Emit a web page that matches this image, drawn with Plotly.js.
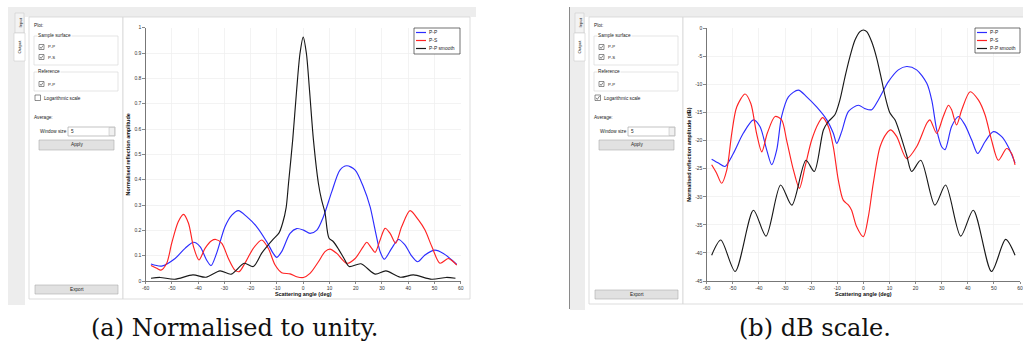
<!DOCTYPE html>
<html><head><meta charset="utf-8">
<script src="https://cdn.plot.ly/plotly-3.0.1.min.js"></script>
<style>html,body{margin:0;padding:0;background:#fff;}#chart{width:1023px;height:354px;}</style>
</head><body><div id="chart"></div>
<script>
// ---------- DATA ----------
// (a) normalised to unity
const angleNormPP = [-58,-53.9,-48.8,-45,-41.8,-39.3,-36.8,-35.1,-33,-29.8,-27.2,-24.7,-21.5,-17.7,-13.9,-11.4,-10.1,-8.2,-5,-2.5,0.1,2.6,5.2,7.7,10.9,14,16.6,19.8,22.9,25.5,27.4,29.3,30.9,33.7,36.3,38.8,41.3,43.6,46.4,50.2,53.4,56.6,58.5];
const ampNormPP   = [0.067,0.059,0.089,0.129,0.153,0.136,0.083,0.061,0.109,0.214,0.26,0.278,0.254,0.214,0.155,0.109,0.093,0.116,0.188,0.207,0.201,0.188,0.201,0.254,0.353,0.438,0.455,0.438,0.372,0.293,0.201,0.116,0.086,0.129,0.164,0.142,0.099,0.076,0.103,0.122,0.109,0.083,0.065];
const angleNormPS = [-58,-55.8,-54.2,-52,-50.1,-47.6,-45.6,-43.7,-41.8,-39.7,-37.4,-34.9,-33.3,-31,-28.5,-26,-24.4,-22.2,-19,-15.8,-13.3,-10.7,-8.2,-5,-2.5,0.1,2.6,5.8,8.3,10.2,12.8,16.6,19.8,22.9,24.2,26.1,27.4,29.3,31.2,33.1,35.2,37.5,40.7,43.9,46.4,49,52.1,55.3,57.2,58.5];
const ampNormPS   = [0.061,0.05,0.043,0.07,0.149,0.234,0.263,0.228,0.136,0.083,0.129,0.159,0.164,0.149,0.089,0.043,0.037,0.07,0.129,0.162,0.129,0.063,0.033,0.028,0.017,0.014,0.03,0.076,0.116,0.126,0.109,0.07,0.089,0.136,0.153,0.129,0.113,0.162,0.208,0.188,0.149,0.214,0.278,0.241,0.201,0.136,0.07,0.089,0.076,0.063];
const angleNormRef = [-58,-54.5,-49,-42,-37,-31.7,-27.4,-22.5,-19,-15.8,-13.9,-11.4,-9.2,-7.8,-6.5,-5.6,-4,-2.5,-1.2,0,1.2,2.4,3.9,5.8,7,8.3,9.8,11.5,13.5,15.5,17.5,22,27.4,31.5,37,42,49,54.5,58];
const ampNormRef   = [0.011,0.014,0.007,0.024,0.015,0.04,0.027,0.07,0.057,0.11,0.135,0.165,0.19,0.23,0.29,0.385,0.557,0.754,0.9,0.963,0.9,0.754,0.557,0.385,0.32,0.27,0.17,0.155,0.125,0.09,0.057,0.068,0.027,0.04,0.015,0.024,0.007,0.014,0.011];
// (b) dB scale
const angleDbPP = [-58.1,-55.5,-53,-49.8,-46,-42.1,-39.6,-37,-35.1,-33.2,-31.3,-28.7,-24.9,-21.7,-17.9,-14,-11.5,-10.2,-8.3,-5.7,-1.9,0.6,3.2,5.7,9.6,13.4,16.6,20.4,24.3,26.2,28.1,30,31.3,33.8,36.4,38.9,41.5,43.8,46.6,49.8,53,55.5,58.1];
const dbPP      = [-23.3,-24.0,-24.6,-22.3,-18.7,-16.3,-17.5,-21.7,-24.3,-21.7,-15.7,-12.2,-11.0,-12.2,-14.0,-16.3,-18.7,-20.5,-18.4,-14.8,-13.7,-14.3,-14.5,-12.8,-9.5,-7.4,-6.8,-7.4,-9.8,-12.8,-18.1,-21.1,-21.6,-17.5,-15.7,-17.2,-19.9,-22.3,-20.2,-18.4,-19.3,-21.1,-24.0];
const angleDbPS = [-58.1,-56.2,-54.3,-52.3,-50.4,-48.5,-45.3,-43.1,-40.9,-38.9,-36.8,-33.8,-31.3,-29.4,-26.8,-24.5,-22.3,-19.8,-17.2,-15.6,-13.4,-11.5,-9.6,-7.7,-5.7,-4.5,-2.6,0,1.9,3.8,6.4,8.9,10.5,12.8,16.6,20.4,24.3,25.5,28.1,30.6,32.6,33.8,35.7,37.7,40.9,44.1,46.6,49.1,51.7,54.9,56.8,58.1];
const dbPS      = [-24.3,-25.8,-27.6,-25.2,-18.7,-14.0,-11.7,-13.4,-18.7,-22.0,-18.7,-15.7,-16.3,-19.9,-25.2,-28.5,-24.6,-19.9,-16.9,-15.9,-17.5,-21.1,-27.0,-30.6,-31.5,-32.4,-35.3,-37.1,-33.6,-27.6,-21.1,-18.7,-18.1,-19.3,-23.2,-21.1,-16.9,-16.3,-18.7,-15.7,-13.7,-14.5,-17.2,-14.5,-11.3,-12.8,-15.4,-19.9,-23.5,-21.4,-22.3,-24.3];
const angleDbRef = [-58.1,-54.6,-49.1,-42.1,-37.3,-31.7,-27.4,-22,-18.8,-15.3,-13.4,-10.9,-9,-7,-5.1,-3.2,-1.3,0,1.3,3.2,5.1,7,8.7,10.2,12.1,14,16.6,18.5,22,27.4,31.5,37.3,42.1,49.1,54.5,58.1];
const dbRef      = [-40.4,-37.7,-43.3,-32.4,-37.0,-27.9,-31.5,-23.5,-25.5,-18.1,-16.6,-15.4,-12.8,-8.6,-5.0,-2.1,-0.6,-0.3,-0.6,-2.4,-5.3,-9.2,-12.8,-15.1,-16.3,-18.7,-22.6,-25.5,-23.5,-31.5,-27.9,-37.0,-32.4,-43.3,-37.6,-40.4];

const seriesNames = ["P-P","P-S","P-P smooth"];
const xTickVals = [-60,-50,-40,-30,-20,-10,0,10,20,30,40,50,60];
const xTickText = ["-60","-50","-40","-30","-20","-10","0","10","20","30","40","50","60"];
const yTickValsA = [0,0.1,0.2,0.3,0.4,0.5,0.6,0.7,0.8,0.9,1];
const yTickTextA = ["0","0.1","0.2","0.3","0.4","0.5","0.6","0.7","0.8","0.9","1"];
const yTickValsB = [0,-5,-10,-15,-20,-25,-30,-35,-40,-45];
const yTickTextB = ["0","-5","-10","-15","-20","-25","-30","-35","-40","-45"];
const captions = ["(a) Normalised to unity.","(b) dB scale."];

// ---------- STYLE / GEOMETRY ----------
const W=1023,H=354;
const X=v=>v/W, Y=v=>1-v/H;
const colors = ["rgb(45,45,255)","rgb(255,35,35)","rgb(25,25,25)"];
const GUI_FONT = "Liberation Sans";
const shapes=[], ann=[];
function rect(x0,y0,x1,y1,fill,line,lw,layer){
  shapes.push({type:'rect',xref:'paper',yref:'paper',x0:X(x0),x1:X(x1),y0:Y(y1),y1:Y(y0),
    fillcolor:fill||'rgba(0,0,0,0)',line:{color:line||'rgba(0,0,0,0)',width:line?(lw||1):0},layer:layer||'below'});
}
function seg(x0,y0,x1,y1,color,w,layer){
  shapes.push({type:'line',xref:'paper',yref:'paper',x0:X(x0),x1:X(x1),y0:Y(y0),y1:Y(y1),line:{color,width:w},layer:layer||'below'});
}
function txt(x,y,text,o){
  o=o||{};
  ann.push({xref:'paper',yref:'paper',x:X(x),y:Y(y),text,showarrow:false,
    xanchor:o.xa||'left',yanchor:'middle',textangle:o.angle||0,
    bgcolor:o.bg||'rgba(0,0,0,0)',borderpad:0,
    font:{family:o.family||GUI_FONT,size:o.size||4.7,color:o.color||'#222'}});
}
function checkbox(x,y,s,checked){
  rect(x,y,x+s,y+s,'#fff','#444',0.6);
  if(checked){
    const p=[[x+1,y+s*0.5],[x+s*0.42,y+s-1.1],[x+s-0.9,y+1]];
    shapes.push({type:'path',xref:'paper',yref:'paper',layer:'below',
      path:'M'+p.map(q=>X(q[0])+','+Y(q[1])).join(' L'),line:{color:'#333',width:0.6}});
  }
}
function gui(dx,grayLeft,grayRight,bottom,frameRight,logChecked){
  const G='#ededed';
  rect(grayLeft,7,grayRight,17,G);
  rect(grayLeft,7,25+dx,bottom+6,G);
  // tabs
  rect(15+dx,13,24+dx,33,'#f3f3f3','#cfcfcf',0.6);
  rect(14+dx,33,25+dx,61,'#fff','#cfcfcf',0.6);
  txt(19.5+dx,23,'Input',{xa:'center',angle:-90,size:4.3});
  txt(19.5+dx,47,'Output',{xa:'center',angle:-90,size:4.3});
  // panels
  rect(29+dx,17,123+dx,bottom,'#fff','#d4d4d4',0.8);
  rect(123+dx,17,frameRight,bottom,'#fff','#d4d4d4',0.8);
  txt(33+dx,25.5,'Plot:');
  rect(34+dx,36,118+dx,65,null,'#dadada',0.7);
  txt(37+dx,35.5,'Sample surface',{bg:'#fff'});
  checkbox(39+dx,44.5,5,true); txt(46.5+dx,47,'P-P',{size:4.3});
  checkbox(39+dx,54.5,5,true); txt(46.5+dx,57,'P-S',{size:4.3});
  rect(34+dx,72,118+dx,91,null,'#dadada',0.7);
  txt(37+dx,71.5,'Reference',{bg:'#fff'});
  checkbox(39+dx,81.5,5,true); txt(46.5+dx,84,'P-P',{size:4.3});
  checkbox(35+dx,95,5.5,logChecked); txt(42.5+dx,98,'Logarithmic scale');
  txt(33+dx,117,'Average:');
  txt(39+dx,131.5,'Window size');
  rect(68+dx,127,115+dx,136,'#fff','#9a9a9a',0.6);
  txt(70+dx,131.5,'5');
  rect(109+dx,127.5,114.5+dx,135.5,'#f0f0f0','#b5b5b5',0.5);
  rect(39+dx,140,114+dx,150,'#e1e1e1','#adadad',0.6);
  txt(76.5+dx,145,'Apply',{xa:'center'});
  rect(35+dx,bottom-14,118+dx,bottom-5,'#e1e1e1','#adadad',0.6);
  txt(76.5+dx,bottom-9.5,'Export',{xa:'center'});
}
function legendBox(x0,y0,x1,y1){
  rect(x0,y0,x1,y1,'#fff','#333',0.7,'above');
  for(let i=0;i<3;i++){
    const yy=y0+4.5+i*8;
    seg(x0+2,yy,x0+12,yy,colors[i],1.2,'above');
    txt(x0+13.5,yy,seriesNames[i],{size:4.9,color:'#222'});
  }
}
gui(0,8,476,299,470,false);
seg(569.5,7,569.5,309,'#8a8a8a',1);
gui(560,570,1023,304,1030,true);
legendBox(414,28,460,54);
legendBox(975,28,1020,53);
txt(234,328,captions[0],{xa:'center',family:'DejaVu Serif',size:24,color:'#111'});
txt(815,328,captions[1],{xa:'center',family:'DejaVu Serif',size:24,color:'#111'});

// ---------- TRACES ----------
function tr(x,y,i,xa,ya){
  return {x,y,name:seriesNames[i],type:'scatter',mode:'lines',xaxis:xa,yaxis:ya,
    line:{color:colors[i],width:1.15,shape:'spline',smoothing:0.8},hoverinfo:'skip'};
}
const data=[
  tr(angleNormPP,ampNormPP,0,'x','y'),
  tr(angleNormPS,ampNormPS,1,'x','y'),
  tr(angleNormRef,ampNormRef,2,'x','y'),
  tr(angleDbPP,dbPP,0,'x2','y2'),
  tr(angleDbPS,dbPS,1,'x2','y2'),
  tr(angleDbRef,dbRef,2,'x2','y2')
];
const tickFont={family:GUI_FONT,size:5,color:'#333'};
const titleFont={family:GUI_FONT,size:5.4,color:'#111'};
function xax(dom,anchor){
  return {domain:dom,anchor,range:[-60,60],tickmode:'array',tickvals:xTickVals,ticktext:xTickText,
    showline:true,linecolor:'#555',linewidth:0.8,ticks:'outside',ticklen:2.5,tickwidth:0.7,tickcolor:'#555',
    tickfont:tickFont,showgrid:true,gridcolor:'#eeeeee',gridwidth:0.7,zeroline:false,fixedrange:true,
    title:{text:'<b>Scattering angle (deg)</b>',font:titleFont,standoff:1}};
}
function yax(dom,anchor,range,tv,tt,title){
  return {domain:dom,anchor,range,tickmode:'array',tickvals:tv,ticktext:tt,
    showline:true,linecolor:'#555',linewidth:0.8,ticks:'outside',ticklen:2.5,tickwidth:0.7,tickcolor:'#555',
    tickfont:tickFont,showgrid:true,gridcolor:'#eeeeee',gridwidth:0.7,zeroline:false,fixedrange:true,
    title:{text:'<b>'+title+'</b>',font:titleFont,standoff:3}};
}
const layout={
  width:W,height:H,margin:{l:0,r:0,t:0,b:0},paper_bgcolor:'#fff',plot_bgcolor:'rgba(0,0,0,0)',
  showlegend:false,
  xaxis:xax([X(145.7),X(460.7)],'y'),
  yaxis:yax([Y(281),Y(27.7)],'x',[0,1],yTickValsA,yTickTextA,'Normalised reflection amplitude'),
  xaxis2:xax([X(706.7),X(1020)],'y2'),
  yaxis2:yax([Y(281),Y(28.3)],'x2',[-45,0],yTickValsB,yTickTextB,'Normalised reflection amplitude (dB)'),
  shapes,annotations:ann
};
Plotly.newPlot('chart',data,layout,{staticPlot:true,displayModeBar:false});
</script></body></html>
